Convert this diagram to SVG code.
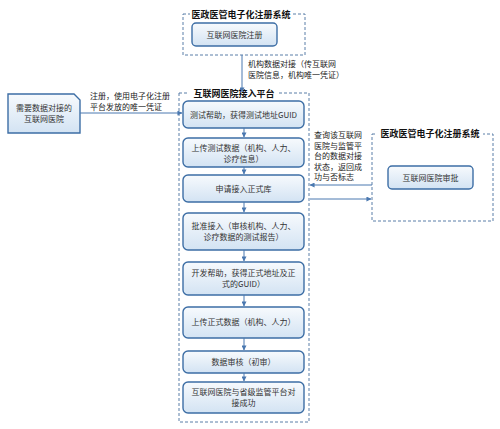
<svg xmlns="http://www.w3.org/2000/svg" width="500" height="429" viewBox="0 0 500 429">
<defs>
<linearGradient id="g" x1="0" y1="0" x2="0" y2="1">
<stop offset="0" stop-color="#f7fafd"/>
<stop offset="1" stop-color="#d3e3f3"/>
</linearGradient>
<marker id="ah" viewBox="0 0 6 6" refX="5.5" refY="3" markerWidth="5" markerHeight="5" orient="auto" markerUnits="userSpaceOnUse">
<path d="M0,0 L6,3 L0,6 z" fill="#4a78b0"/>
</marker>
<style>
.box{fill:url(#g);stroke:#3d6ea5;stroke-width:1.4}
.grp{fill:none;stroke:#5a7ea8;stroke-width:1;stroke-dasharray:3,2}
.t{font-family:"Noto Sans CJK SC","Liberation Sans",sans-serif;font-size:8px;fill:#333;text-anchor:middle}
.lbl{font-family:"Noto Sans CJK SC","Liberation Sans",sans-serif;font-size:8px;fill:#222}
.title{font-family:"Noto Sans CJK SC","Liberation Sans",sans-serif;font-size:9px;font-weight:bold;fill:#111;text-anchor:middle}
.c{fill:none;stroke:#4a78b0;stroke-width:1;marker-end:url(#ah)}
</style>
</defs>
<rect width="500" height="429" fill="#ffffff"/>

<g id="sys-top">
<rect class="grp" x="183" y="14" width="122" height="41"/>
<rect x="190" y="8" width="102" height="12" fill="#fff"/>
<text class="title" x="241" y="17.5">医政医管电子化注册系统</text>
</g>
<g id="reg">
<rect class="box" x="192" y="23" width="85" height="23" rx="4"/>
<text class="t" x="234.5" y="37.5">互联网医院注册</text>
</g>

<g id="platform">
<rect class="grp" x="179" y="93" width="130" height="329"/>
<rect x="189" y="87" width="89" height="12" fill="#fff"/>
<text class="title" x="234" y="96.5">互联网医院接入平台</text>
</g>

<g id="sys-right">
<rect class="grp" x="372" y="134" width="121" height="87"/>
<rect x="377" y="128" width="106" height="12" fill="#fff"/>
<text class="title" x="430" y="137">医政医管电子化注册系统</text>
</g>
<g id="approve">
<rect class="box" x="388" y="166" width="85" height="23" rx="4"/>
<text class="t" x="430.5" y="180.5">互联网医院审批</text>
</g>

<g id="hospital">
<path class="box" d="M8,94 H74 L80,100 V133 H8 Z"/>
<text class="t" x="44" y="111">需要数据对接的</text>
<text class="t" x="44" y="122">互联网医院</text>
</g>

<g id="s1">
<rect class="box" x="183" y="101" width="121" height="27" rx="5"/>
<text class="t" x="243.5" y="117.5">测试帮助，获得测试地址GUID</text>
</g>
<g id="s2">
<rect class="box" x="183" y="138" width="121" height="29" rx="5"/>
<text class="t" x="243.5" y="151">上传测试数据（机构、人力、</text>
<text class="t" x="243.5" y="162">诊疗信息）</text>
</g>
<g id="s3">
<rect class="box" x="183" y="175" width="121" height="27" rx="5"/>
<text class="t" x="243.5" y="191.5">申请接入正式库</text>
</g>
<g id="s4">
<rect class="box" x="183" y="213" width="121" height="37" rx="5"/>
<text class="t" x="243.5" y="229">批准接入（审核机构、人力、</text>
<text class="t" x="243.5" y="240">诊疗数据的测试报告）</text>
</g>
<g id="s5">
<rect class="box" x="183" y="262" width="121" height="33" rx="5"/>
<text class="t" x="243.5" y="276">开发帮助，获得正式地址及正</text>
<text class="t" x="243.5" y="287">式的GUID）</text>
</g>
<g id="s6">
<rect class="box" x="183" y="307" width="121" height="31" rx="5"/>
<text class="t" x="243.5" y="325">上传正式数据（机构、人力）</text>
</g>
<g id="s7">
<rect class="box" x="183" y="351" width="121" height="22" rx="5"/>
<text class="t" x="243.5" y="365">数据审核（初审）</text>
</g>
<g id="s8">
<rect class="box" x="183" y="382" width="121" height="31" rx="5"/>
<text class="t" x="243.5" y="395">互联网医院与省级监管平台对</text>
<text class="t" x="243.5" y="406">接成功</text>
</g>

<g id="connectors">
<line class="c" x1="242" y1="55" x2="242" y2="92"/>
<line class="c" x1="80" y1="113" x2="182" y2="113"/>
<line class="c" x1="244" y1="128" x2="244" y2="137"/>
<line class="c" x1="244" y1="167" x2="244" y2="174"/>
<line class="c" x1="244" y1="202" x2="244" y2="212"/>
<line class="c" x1="244" y1="250" x2="244" y2="261"/>
<line class="c" x1="244" y1="295" x2="244" y2="306"/>
<line class="c" x1="244" y1="338" x2="244" y2="350"/>
<line class="c" x1="244" y1="373" x2="244" y2="381"/>
<line class="c" x1="372" y1="185" x2="310" y2="185"/>
<line class="c" x1="310" y1="199" x2="371" y2="199"/>
</g>

<g id="labels">
<text class="lbl" x="248" y="67">机构数据对接（传互联网</text>
<text class="lbl" x="248" y="78">医院信息，机构唯一凭证）</text>
<text class="lbl" x="90" y="99">注册，使用电子化注册</text>
<text class="lbl" x="90" y="110">平台发放的唯一凭证</text>
<text class="lbl" x="314" y="138">查询该互联网</text>
<text class="lbl" x="314" y="148.5">医院与监管平</text>
<text class="lbl" x="314" y="159">台的数据对接</text>
<text class="lbl" x="314" y="169.5">状态，返回成</text>
<text class="lbl" x="314" y="180">功与否标志</text>
</g>
</svg>
